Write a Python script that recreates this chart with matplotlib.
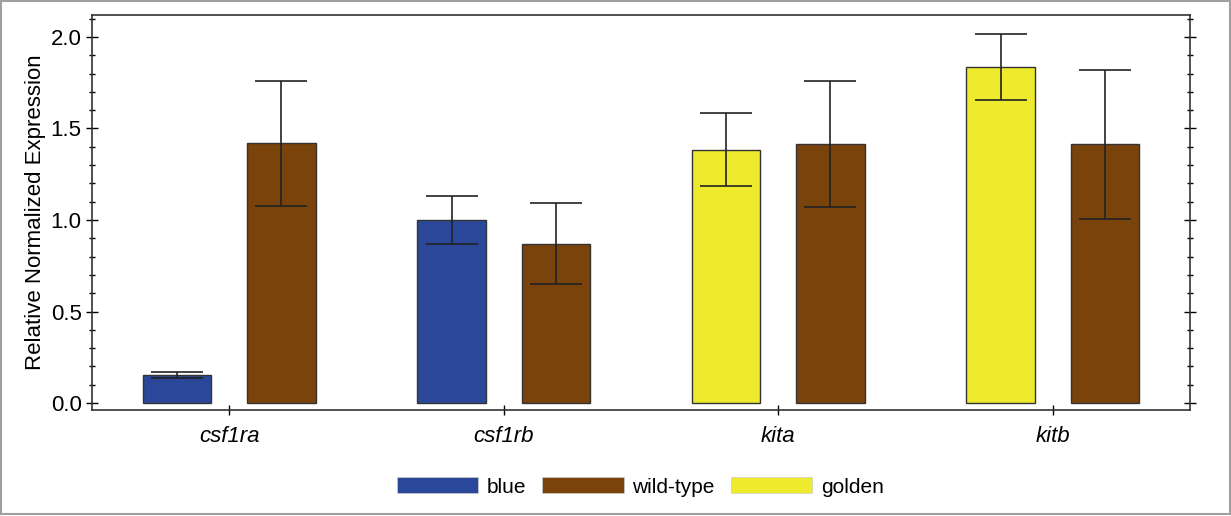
import numpy as np
import matplotlib
matplotlib.use('Agg')
import matplotlib.pyplot as plt
from matplotlib.patches import Patch, Rectangle
from matplotlib.ticker import MultipleLocator

plt.rcParams['font.family'] = ['Liberation Sans', 'DejaVu Sans']

genes = ['csf1ra', 'csf1rb', 'kita', 'kitb']
# mutant strain compared with wild-type for each gene
mutant = ['blue', 'blue', 'golden', 'golden']
mutant_vals = [0.155, 1.00, 1.385, 1.835]
mutant_err = [0.016, 0.13, 0.20, 0.18]
wt_vals = [1.418, 0.870, 1.416, 1.413]
wt_err = [0.34, 0.222, 0.345, 0.405]

colors = {'blue': '#2b4799', 'wild-type': '#7a430b', 'golden': '#eeea2c'}
legend_order = ['blue', 'wild-type', 'golden']

fig = plt.figure(figsize=(12.31, 5.16), dpi=100)
ax = fig.add_axes([0.0747, 0.2054, 0.892, 0.7656])

x = np.arange(len(genes))
w = 0.25
off = 0.19
ax.bar(x - off, mutant_vals, w, color=[colors[m] for m in mutant],
       edgecolor='#333333', linewidth=1.0, zorder=2)
ax.bar(x + off, wt_vals, w, color=colors['wild-type'],
       edgecolor='#333333', linewidth=1.0, zorder=2)
ax.errorbar(x - off, mutant_vals, yerr=mutant_err, fmt='none', ecolor='#222222',
            elinewidth=1.2, capsize=19, capthick=1.2, zorder=3)
ax.errorbar(x + off, wt_vals, yerr=wt_err, fmt='none', ecolor='#222222',
            elinewidth=1.2, capsize=19, capthick=1.2, zorder=3)

ax.set_xlim(-0.5, 3.5)
ax.set_ylim(-0.038, 2.12)
ax.set_xticks(x)
ax.set_xticklabels(genes, fontstyle='italic', fontsize=16)
ax.yaxis.set_major_locator(MultipleLocator(0.5))
ax.yaxis.set_minor_locator(MultipleLocator(0.1))
ax.set_yticks([0, 0.5, 1.0, 1.5, 2.0])
ax.set_yticklabels(['0.0', '0.5', '1.0', '1.5', '2.0'], fontsize=16)
ax.set_ylabel('Relative Normalized Expression', fontsize=16, labelpad=3)

ax.tick_params(axis='y', which='major', direction='inout', length=9, width=1.0,
               right=True, left=True, pad=3)
ax.tick_params(axis='y', which='minor', direction='inout', length=5, width=1.0,
               right=True, left=True)
ax.tick_params(axis='x', which='major', direction='inout', length=7, width=1.0, pad=8)
for s in ax.spines.values():
    s.set_linewidth(1.2)
    s.set_color('#333333')

handles = [Patch(facecolor=colors[k], edgecolor='#cccccc', linewidth=0.5) for k in legend_order]
fig.legend(handles, legend_order, loc='center', bbox_to_anchor=(0.52, 0.056), ncol=3,
           frameon=False, fontsize=15, handlelength=3.9, handleheight=0.8,
           columnspacing=0.8, handletextpad=0.4)

fig.patches.append(Rectangle((0.001, 0.003), 0.998, 0.995, transform=fig.transFigure,
                             fill=False, edgecolor='#a0a0a0', linewidth=1.5))

fig.savefig('out.png', dpi=100)
